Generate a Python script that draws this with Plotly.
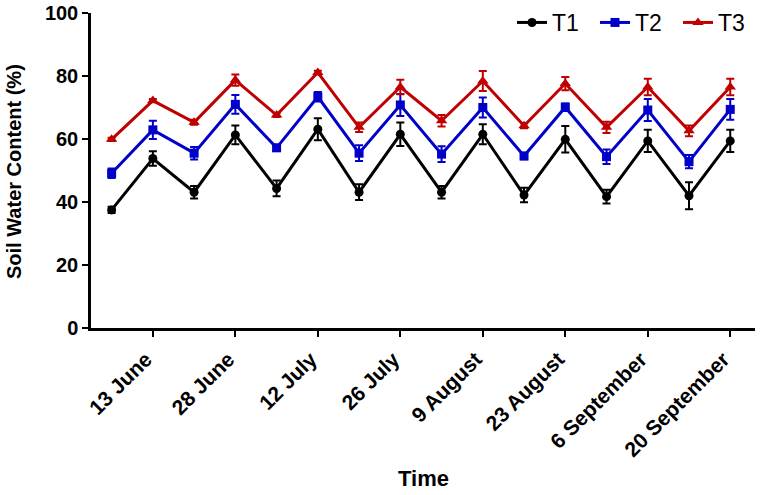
import plotly.graph_objects as go

positions = list(range(16))
tick_positions = [1, 3, 5, 7, 9, 11, 13, 15]
tick_labels = ["13 June", "28 June", "12 July", "26 July", "9 August",
               "23 August", "6 September", "20 September"]

t1 = [37.5, 53.8, 43.1, 61.3, 44.3, 63.1, 43.1, 61.5, 43.1, 61.5, 42.2, 59.9, 41.7, 59.4, 42.0, 59.4]
t1_err = [1.0, 2.3, 2.0, 3.0, 2.5, 3.5, 2.5, 3.7, 2.0, 3.2, 2.3, 4.2, 2.2, 3.5, 4.3, 3.5]
t2 = [49.1, 62.9, 55.5, 71.0, 57.2, 73.4, 55.5, 70.8, 55.2, 70.0, 54.6, 70.1, 54.4, 69.2, 52.8, 69.4]
t2_err = [1.5, 2.9, 2.0, 3.0, 1.0, 1.5, 2.5, 3.5, 2.5, 3.2, 1.0, 1.2, 2.3, 3.5, 2.1, 3.3]
t3 = [59.9, 72.2, 65.3, 78.7, 67.6, 81.1, 63.7, 76.5, 65.8, 78.4, 64.2, 77.6, 63.7, 76.5, 62.6, 76.5]
t3_err = [0.5, 0.5, 0.8, 1.8, 0.6, 0.6, 1.5, 2.3, 1.8, 3.2, 0.8, 2.1, 1.8, 2.6, 1.7, 2.6]

series = [
    ("T1", t1, t1_err, "black", "circle", 9),
    ("T2", t2, t2_err, "#0000C8", "square", 9),
    ("T3", t3, t3_err, "#C00000", "triangle-up", 10),
]

fig = go.Figure()
for name, ys, errs, color, sym, size in series:
    fig.add_trace(go.Scatter(
        x=positions, y=ys, name=name, mode="lines+markers",
        line=dict(color=color, width=3),
        marker=dict(color=color, symbol=sym, size=size),
        error_y=dict(type="data", array=errs, visible=True, color=color,
                     thickness=2, width=4),
    ))

L, R, T, B = 91, 6, 13, 167
W, H = 761, 495
pw, ph = W - L - R, H - T - B

fig.update_layout(
    width=W, height=H,
    margin=dict(l=L, r=R, t=T, b=B, autoexpand=False),
    plot_bgcolor="white", paper_bgcolor="white",
    font=dict(family="Liberation Sans, Arial", color="black"),
    showlegend=True,
    legend=dict(orientation="h", x=(512 - L) / pw, xanchor="left",
                y=1 + (T - 1) / ph, yanchor="top",
                font=dict(size=23, color="black"), itemwidth=30,
                entrywidth=38, entrywidthmode="pixels",
                bgcolor="rgba(0,0,0,0)", tracegroupgap=0),
    xaxis=dict(
        range=[-0.5, 15.6], tickvals=tick_positions, ticktext=tick_labels,
        tickangle=-45, showline=True, linecolor="black", linewidth=2.5,
        ticks="outside", ticklen=6, tickwidth=2, tickcolor="black",
        showgrid=False, zeroline=False, automargin=False,
        ticklabelshift=-7, ticklabelstandoff=2,
        tickfont=dict(size=21, family="Liberation Sans, Arial", weight="bold"),
    ),
    yaxis=dict(
        range=[0, 100], tickvals=[0, 20, 40, 60, 80, 100],
        showline=True, linecolor="black", linewidth=2.5,
        ticks="outside", ticklen=6, tickwidth=2, tickcolor="black",
        showgrid=False, zeroline=False, automargin=False,
        tickfont=dict(size=20, family="Liberation Sans, Arial", weight="bold"),
    ),
    annotations=[
        dict(text="<b>Time</b>", xref="paper", yref="paper",
             x=(423 - L) / pw, y=-(478 - T - ph) / ph,
             xanchor="center", yanchor="middle", showarrow=False,
             font=dict(size=22)),
        dict(text="<b>Soil Water Content (%)</b>", xref="paper", yref="paper",
             x=-(L - 14) / pw, y=(H - B - 172) / ph,
             xanchor="center", yanchor="middle", textangle=-90, showarrow=False,
             font=dict(size=20)),
    ],
)

fig.write_html("out.html")
